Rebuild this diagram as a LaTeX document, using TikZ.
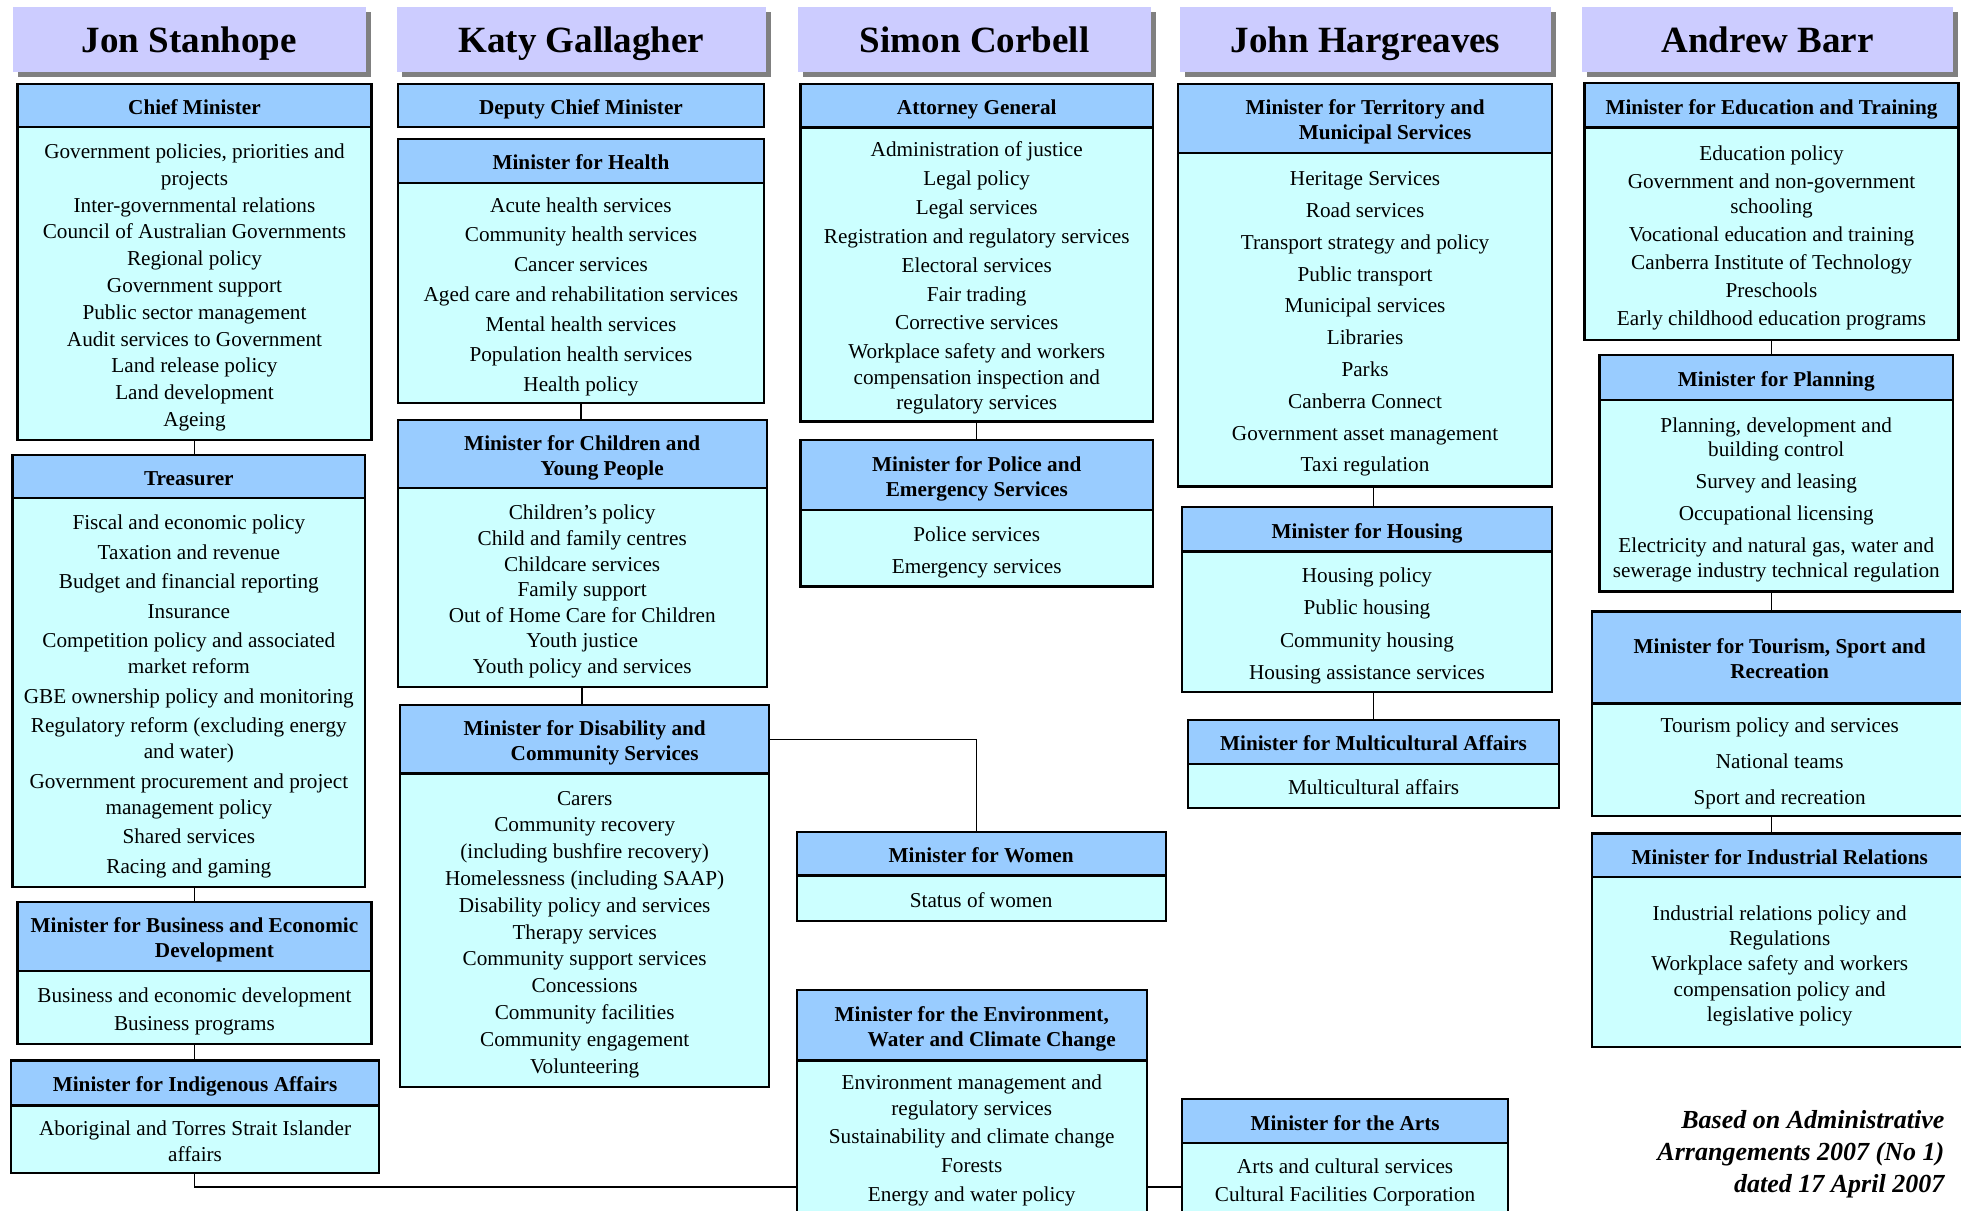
\documentclass[tikz,border=0pt]{standalone}
\usepackage{fontspec}
\setmainfont{Liberation Serif}
\usetikzlibrary{positioning}
\usetikzlibrary{shadows}
\definecolor{headfill}{RGB}{204,204,255}
\definecolor{titlefill}{RGB}{153,204,255}
\definecolor{bodyfill}{RGB}{204,255,255}
\newcommand{\padtop}{\rule{0pt}{11.2pt}} % lowers the text a little in its box
\tikzset{
minister/.style 2 args={ % name above each column
fill=headfill, inner sep=0pt, anchor=north west,
minimum width=#1*0.625pt, minimum height=#2*0.625pt,
text height=13.8pt, text depth=0pt,
drop shadow={shadow xshift=2.5pt, shadow yshift=-2.5pt, fill=black!50, opacity=1},
font=\fontsize{18.5}{22}\selectfont\bfseries},
portfolio/.style 2 args={ % title band of a box
draw, line width=1.1pt, fill=titlefill, inner sep=0pt, outer sep=0pt,
anchor=north west, align=center, text depth=2.3pt,
minimum width=#1*0.625pt, minimum height=#2*0.625pt,
font=\fontsize{10.6}{12.5}\selectfont\bfseries},
duties/.style n args={3}{ % list under the title band
draw, line width=1.1pt, fill=bodyfill, inner sep=0pt, outer sep=0pt,
align=center, text depth=2.3pt,
minimum width=#1*0.625pt, minimum height=#2*0.625pt,
font=\fontsize{10.6}{#3}\selectfont},
basis/.style={align=right, inner sep=0pt,
font=\fontsize{13}{16}\selectfont\bfseries\itshape},
link/.style={line width=0.7pt}}

\begin{document}
\begin{tikzpicture}[x=0.625pt, y=-0.625pt]
\useasboundingbox (0,0) rectangle (1568,968.3);

% Jon Stanhope
\node[minister={282}{52}] (hJS) at (10,5) {Jon Stanhope};
\node[portfolio={283}{34.5}] (cmT) at (14,67) {\padtop Chief Minister};
\node[duties={283}{250.5}{13.4}, below=0pt of cmT] (cmB) {\padtop Government policies, priorities and\\projects\\Inter-governmental relations\\Council of Australian Governments\\Regional policy\\Government support\\Public sector management\\Audit services to Government\\Land release policy\\Land development\\Ageing};
\node[portfolio={282}{34.5}] (trT) at (10,364) {\padtop Treasurer};
\node[duties={282}{310.5}{13.1}, below=0pt of trT] (trB) {\padtop Fiscal and economic policy\\[1.6pt]Taxation and revenue\\[1.6pt]Budget and financial reporting\\[1.6pt]Insurance\\[1.6pt]Competition policy and associated\\market reform\\[1.6pt]GBE ownership policy and monitoring\\[1.6pt]Regulatory reform (excluding energy\\and water)\\[1.6pt]Government procurement and project\\management policy\\[1.6pt]Shared services\\[1.6pt]Racing and gaming};
\node[portfolio={283}{55.5}] (bdT) at (14,721) {\padtop Minister for Business and Economic\\\hspace*{20pt}Development};
\node[duties={283}{58}{13.75}, below=0pt of bdT] (bdB) {\padtop Business and economic development\\Business programs};
\node[portfolio={294}{36}] (iaT) at (9,848) {\padtop Minister for Indigenous Affairs};
\node[duties={294}{54}{13.1}, below=0pt of iaT] (iaB) {\padtop Aboriginal and Torres Strait Islander\\affairs};

% Katy Gallagher
\node[minister={295}{52}] (hKG) at (317,5) {Katy Gallagher};
\node[portfolio={293}{34.5}] (dcT) at (318,67) {\padtop Deputy Chief Minister};
\node[portfolio={293}{35}] (heT) at (318,111) {\padtop Minister for Health};
\node[duties={293}{176}{14.9}, below=0pt of heT] (heB) {\padtop Acute health services\\Community health services\\Cancer services\\Aged care and rehabilitation services\\Mental health services\\Population health services\\Health policy};
\node[portfolio={295}{54.5}] (cyT) at (318,336) {\padtop Minister for Children and\\\hspace*{20pt}Young People};
\node[duties={295}{159}{12.8}, below=0pt of cyT] (cyB) {\padtop Children’s policy\\Child and family centres\\Childcare services\\Family support\\Out of Home Care for Children\\Youth justice\\Youth policy and services};
\node[portfolio={295}{54.5}] (dsT) at (320,564) {\padtop Minister for Disability and\\\hspace*{20pt}Community Services};
\node[duties={295}{250.5}{13.4}, below=0pt of dsT] (dsB) {\padtop Carers\\Community recovery\\(including bushfire recovery)\\Homelessness (including SAAP)\\Disability policy and services\\Therapy services\\Community support services\\Concessions\\Community facilities\\Community engagement\\Volunteering};

% Simon Corbell
\node[minister={282}{52}] (hSC) at (638,5) {Simon Corbell};
\node[portfolio={282}{35}] (agT) at (640,67) {\padtop Attorney General};
\node[duties={282}{235}{12.8}, below=0pt of agT] (agB) {\padtop Administration of justice\\[1.6pt]Legal policy\\[1.6pt]Legal services\\[1.6pt]Registration and regulatory services\\[1.6pt]Electoral services\\[1.6pt]Fair trading\\[1.6pt]Corrective services\\[1.6pt]Workplace safety and workers\\compensation inspection and\\regulatory services};
\node[portfolio={282}{56}] (poT) at (640,352) {\padtop Minister for Police and\\Emergency Services};
\node[duties={282}{61}{16.25}, below=0pt of poT] (poB) {\padtop Police services\\Emergency services};
\node[portfolio={295}{35}] (woT) at (637,665) {\padtop Minister for Women};
\node[duties={295}{36.5}{13}, below=0pt of woT] (woB) {\padtop Status of women};
\node[portfolio={280}{56.5}] (enT) at (637,791.5) {\padtop Minister for the Environment,\\\hspace*{20pt}Water and Climate Change};
\node[duties={280}{142}{13.1}, below=0pt of enT] (enB) {\padtop Environment management and\\regulatory services\\[1.2pt]Sustainability and climate change\\[1.2pt]Forests\\[1.2pt]Energy and water policy\\\mbox{}};

% John Hargreaves
\node[minister={297}{52}] (hJH) at (943,5) {John Hargreaves};
\node[portfolio={299}{55.5}] (tmT) at (942,67) {\padtop Minister for Territory and\\\hspace*{20pt}Municipal Services};
\node[duties={299}{266.5}{15.9}, below=0pt of tmT] (tmB) {\padtop Heritage Services\\Road services\\Transport strategy and policy\\Public transport\\Municipal services\\Libraries\\Parks\\Canberra Connect\\Government asset management\\Taxi regulation};
\node[portfolio={296}{35.5}] (hoT) at (945,405.5) {\padtop Minister for Housing};
\node[duties={296}{112.5}{16.25}, below=0pt of hoT] (hoB) {\padtop Housing policy\\Public housing\\Community housing\\Housing assistance services};
\node[portfolio={296.5}{35.5}] (mcT) at (950,575.5) {\padtop Minister for Multicultural Affairs};
\node[duties={296.5}{35}{13}, below=0pt of mcT] (mcB) {\padtop Multicultural affairs};
\node[portfolio={261}{35}] (arT) at (945,879) {\padtop Minister for the Arts};
\node[duties={261}{57}{13.75}, below=0pt of arT] (arB) {\padtop Arts and cultural services\\Cultural Facilities Corporation};

% Andrew Barr
\node[minister={296}{52}] (hAB) at (1265,5) {Andrew Barr};
\node[portfolio={299}{35.5}] (etT) at (1267,66.5) {\padtop Minister for Education and Training};
\node[duties={299}{170}{12.5}, below=0pt of etT] (etB) {\padtop Education policy\\[1.5pt]Government and non-government\\schooling\\[1.5pt]Vocational education and training\\[1.5pt]Canberra Institute of Technology\\[1.5pt]Preschools\\[1.5pt]Early childhood education programs};
\node[portfolio={282.5}{36}] (plT) at (1279,284) {\padtop Minister for Planning};
\node[duties={282.5}{153}{12.2}, below=0pt of plT] (plB) {\padtop Planning, development and\\building control\\[3.8pt]Survey and leasing\\[3.8pt]Occupational licensing\\[3.8pt]Electricity and natural gas, water and\\sewerage industry technical regulation};
\node[portfolio={300}{73.5}] (tsT) at (1273,489) {\padtop Minister for Tourism, Sport and\\Recreation};
\node[duties={300}{90}{18.1}, below=0pt of tsT] (tsB) {\padtop Tourism policy and services\\National teams\\Sport and recreation};
\node[portfolio={300}{35}] (irT) at (1273,666.5) {\padtop Minister for Industrial Relations};
\node[duties={300}{135.5}{12.7}, below=0pt of irT] (irB) {\padtop Industrial relations policy and\\Regulations\\Workplace safety and workers\\compensation policy and\\legislative policy};

\node[basis, anchor=east] (note) at (1555,923) {Based on Administrative\\Arrangements 2007 (No 1)\\dated 17 April 2007};

% connectors
\coordinate (envJoin) at (637,949);
\draw[link] (cmB.south) -- (cmB.south |- trT.north);
\draw[link] (cmB.south |- trB.south) -- (bdT.north);
\draw[link] (bdB.south) -- (bdB.south |- iaT.north);
\draw[link] (bdB.south |- iaB.south) |- (envJoin);
\draw[link] (heB.south) -- (heB.south |- cyT.north);
\draw[link] (cyB.south) -- (cyB.south |- dsT.north);
\draw[link] (dsT.east) -| (agB.south |- woT.north);
\draw[link] (agB.south) -- (agB.south |- poT.north);
\draw[link] (enB.east |- envJoin) -- (arB.west |- envJoin);
\draw[link] (mcT.north |- tmB.south) -- (mcT.north |- hoT.north);
\draw[link] (mcT.north |- hoB.south) -- (mcT.north);
\draw[link] (etB.south) -- (etB.south |- plT.north);
\draw[link] (etB.south |- plB.south) -- (etB.south |- tsT.north);
\draw[link] (etB.south |- tsB.south) -- (etB.south |- irT.north);
\end{tikzpicture}
\end{document}
